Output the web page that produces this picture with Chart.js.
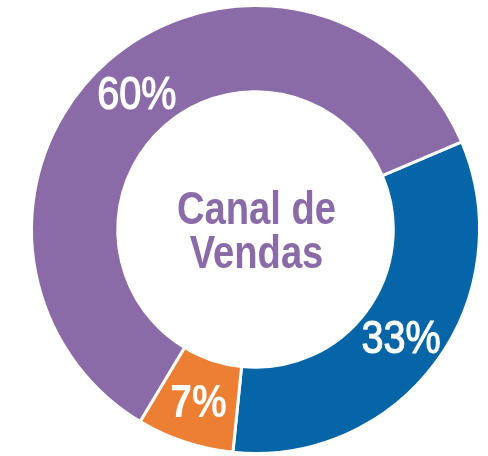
<!DOCTYPE html>
<html>
<head>
<meta charset="utf-8">
<script src="https://cdn.jsdelivr.net/npm/chart.js@4/dist/chart.umd.min.js"></script>
<style>
  html, body { margin: 0; padding: 0; background: #fff; }
  #wrap { width: 488px; height: 456px; }
</style>
</head>
<body>
<div id="wrap"><canvas id="canalChart" width="488" height="456"></canvas></div>
<script>
// data
const labels = ['Canal B', 'Canal C', 'Canal A'];
const values = [33, 7, 60];
const sliceColors = ['#0565a7', '#ec7f33', '#8a6ba8'];
const centerLines = ['Canal de', 'Vendas'];

const FONT_FAMILY = '"Liberation Sans", Arial, Helvetica, sans-serif';

// condensed look: sans squeezed horizontally, optional stroke to thicken
function squeezedText(ctx, text, x, y, font, color, squeeze, thicken) {
    ctx.save();
    ctx.font = font;
    ctx.fillStyle = color;
    ctx.strokeStyle = color;
    ctx.textAlign = 'center';
    ctx.textBaseline = 'alphabetic';
    ctx.translate(x, y);
    ctx.scale(squeeze, 1);
    ctx.fillText(text, 0, 0);
    if (thicken) {
        ctx.lineWidth = thicken;
        ctx.lineJoin = 'round';
        ctx.strokeText(text, 0, 0);
    }
    ctx.restore();
}

// percentage labels on each slice + title in the hole
const labelPlugin = {
    id: 'labelPlugin',
    afterDatasetsDraw(chart) {
        const ctx = chart.ctx;
        const meta = chart.getDatasetMeta(0);
        meta.data.forEach(function (arc, i) {
            const pos = arc.tooltipPosition();
            if (values[i] < 10) {
                squeezedText(ctx, values[i] + '%', pos.x, pos.y + 16, 'bold 46px ' + FONT_FAMILY, '#ffffff', 0.85, 0);
            } else {
                squeezedText(ctx, values[i] + '%', pos.x, pos.y + 16, '46px ' + FONT_FAMILY, '#ffffff', 0.86, 1.2);
            }
        });
        const c = meta.data[0];
        squeezedText(ctx, centerLines[0], c.x + 1, c.y - 6, 'bold 46px ' + FONT_FAMILY, '#8a6ba8', 0.83, 0);
        squeezedText(ctx, centerLines[1], c.x + 1, c.y + 38, 'bold 46px ' + FONT_FAMILY, '#8a6ba8', 0.83, 0);
    }
};

const canvas = document.getElementById('canalChart');
new Chart(canvas.getContext('2d'), {
    type: 'doughnut',
    data: {
        labels: labels,
        datasets: [{
            data: values,
            backgroundColor: sliceColors,
            borderColor: '#ffffff',
            borderWidth: 3
        }]
    },
    options: {
        responsive: false,
        animation: false,
        rotation: 67,
        cutout: '61.5%',
        layout: { padding: { left: 30, right: 7, top: 4, bottom: 1 } },
        plugins: {
            legend: { display: false },
            tooltip: { enabled: false }
        }
    },
    plugins: [labelPlugin]
});
</script>
</body>
</html>
